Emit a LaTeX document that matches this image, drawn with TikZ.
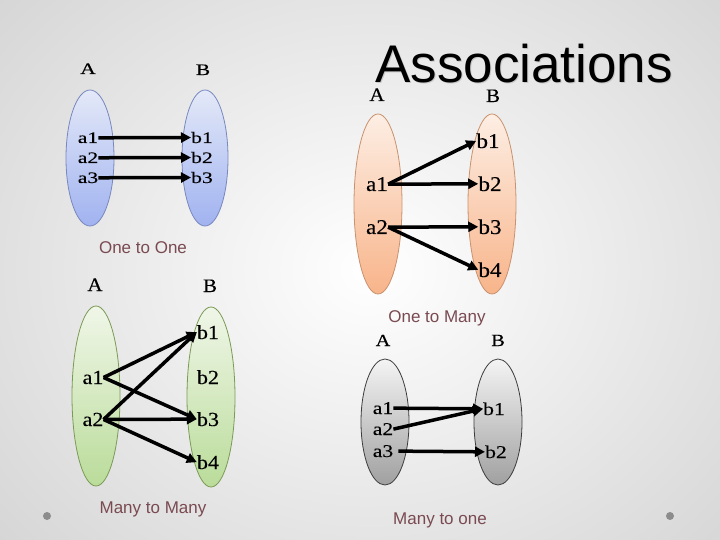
\documentclass[tikz,border=0pt]{standalone}
\usepackage{fontspec}
\setmainfont{Liberation Serif}
\newfontfamily\lfA[FakeStretch=1.1,FakeBold=0.25]{Liberation Serif}
\newfontfamily\lfB[FakeStretch=1.35,FakeBold=0.25]{Liberation Serif}
\newfontfamily\lfC[FakeStretch=1.2,FakeBold=0.25]{Liberation Serif}
\newfontfamily\capfont{Liberation Sans}
\usetikzlibrary{arrows.meta}
\definecolor{capred}{RGB}{122,74,82}
\definecolor{blueT}{RGB}{228,233,248}
\definecolor{blueB}{RGB}{160,178,240}
\definecolor{blueL}{RGB}{120,136,190}
\definecolor{orT}{RGB}{253,238,228}
\definecolor{orB}{RGB}{248,180,138}
\definecolor{orL}{RGB}{200,146,110}
\definecolor{grT}{RGB}{240,246,232}
\definecolor{grB}{RGB}{186,220,154}
\definecolor{grL}{RGB}{122,154,85}
\definecolor{gyT}{RGB}{244,244,244}
\definecolor{gyB}{RGB}{160,160,160}
\definecolor{gyL}{RGB}{60,60,60}
\tikzset{
  lbl/.style 2 args={font=#1\fontsize{#2}{#2}\selectfont, inner sep=0pt, anchor=base},
  captiontext/.style={font=\capfont\fontsize{17bp}{20bp}\selectfont, text=capred, inner sep=0pt, anchor=base},
  arr/.style={line width=3.5bp, -{Triangle[length=10bp,width=10bp]}},
  setA/.style={line width=0.8bp, top color=#1T, bottom color=#1B, draw=#1L},
}
\begin{document}
\begin{tikzpicture}[x=1bp,y=-1bp]
\useasboundingbox (0,0) rectangle (720,540);
% background
\shade[inner color=white, outer color=black!16] (-120,-140) rectangle (860,680);
\fill[black!45] (47,516) circle (4bp);
\fill[black!45] (670,516) circle (4bp);

% title
\node[font=\capfont\fontsize{53bp}{53bp}\selectfont, anchor=base, inner sep=0pt, text=black!22] (tshadow) at (525,84) {Associations};
\node[font=\capfont\fontsize{53bp}{53bp}\selectfont, anchor=base, inner sep=0pt] (title) at (524,83) {Associations};

% ---------- One to One ----------
\draw[setA=blue] (90,158) ellipse [x radius=24bp, y radius=68bp];
\draw[setA=blue] (205,158) ellipse [x radius=23bp, y radius=68bp];
\node[lbl={\lfB}{16bp}] (oA) at (88,74) {A};
\node[lbl={\lfB}{16bp}] (oB) at (203,75) {B};
\node[lbl={\lfB}{16bp}] (oa1) at (88,143) {a1};
\node[lbl={\lfB}{16bp}] (oa2) at (88,163) {a2};
\node[lbl={\lfB}{16bp}] (oa3) at (88,183) {a3};
\node[lbl={\lfB}{16bp}] (ob1) at (202,143) {b1};
\node[lbl={\lfB}{16bp}] (ob2) at (202,163) {b2};
\node[lbl={\lfB}{16bp}] (ob3) at (202,183) {b3};
\draw[arr] (oa1.east) -- (ob1.west);
\draw[arr] (oa2.east) -- (ob2.west);
\draw[arr] (oa3.east) -- (ob3.west);
\node[captiontext] (c1) at (143,254) {One to One};

% ---------- One to Many ----------
\draw[setA=or] (378,204) ellipse [x radius=24bp, y radius=90bp];
\draw[setA=or] (492,204) ellipse [x radius=24bp, y radius=90bp];
\node[lbl={\lfA}{19bp}] (mA) at (377,101) {A};
\node[lbl={\lfA}{19bp}] (mB) at (493,102) {B};
\node[lbl={\lfA}{21bp}] (ma1) at (377,191) {a1};
\node[lbl={\lfA}{21bp}] (ma2) at (377,234) {a2};
\node[lbl={\lfA}{21bp}] (mb1) at (488,148) {b1};
\node[lbl={\lfA}{21bp}] (mb2) at (490,191) {b2};
\node[lbl={\lfA}{21bp}] (mb3) at (490,234) {b3};
\node[lbl={\lfA}{21bp}] (mb4) at (490,277) {b4};
\draw[arr] (ma1.east) -- (mb1.west);
\draw[arr] (ma1.east) -- (mb2.west);
\draw[arr] (ma2.east) -- (mb3.west);
\draw[arr] (ma2.east) -- (mb4.west);
\node[captiontext] (c2) at (437,322) {One to Many};

% ---------- Many to Many ----------
\draw[setA=gr] (96,396) ellipse [x radius=24bp, y radius=90bp];
\draw[setA=gr] (211,397) ellipse [x radius=24bp, y radius=90bp];
\node[lbl={\lfA}{19bp}] (nA) at (95,291) {A};
\node[lbl={\lfA}{19bp}] (nB) at (210,292) {B};
\node[lbl={\lfA}{20bp}] (na1) at (93,384) {a1};
\node[lbl={\lfA}{20bp}] (na2) at (93,426) {a2};
\node[lbl={\lfA}{20bp}] (nb1) at (208,339) {b1};
\node[lbl={\lfA}{20bp}] (nb2) at (208,384) {b2};
\node[lbl={\lfA}{20bp}] (nb3) at (208,426) {b3};
\node[lbl={\lfA}{20bp}] (nb4) at (208,469) {b4};
\draw[arr] (na1.east) -- (nb1.west);
\draw[arr] (na1.east) -- (nb3.west);
\draw[arr] (na2.east) -- (nb1.west);
\draw[arr] (na2.east) -- (nb3.west);
\draw[arr] (na2.east) -- (nb4.west);
\node[captiontext] (c3) at (153,513) {Many to Many};

% ---------- Many to one ----------
\draw[setA=gy] (385,422) ellipse [x radius=24bp, y radius=63bp];
\draw[setA=gy] (498,422) ellipse [x radius=24bp, y radius=63bp];
\node[lbl={\lfC}{17bp}] (kA) at (383,346) {A};
\node[lbl={\lfC}{17bp}] (kB) at (498,346) {B};
\node[lbl={\lfC}{18bp}] (ka1) at (383,414) {a1};
\node[lbl={\lfC}{18bp}] (ka2) at (383,435) {a2};
\node[lbl={\lfC}{18bp}] (ka3) at (383,457) {a3};
\node[lbl={\lfC}{18bp}] (kb1) at (494,415) {b1};
\node[lbl={\lfC}{18bp}] (kb2) at (496,458) {b2};
\draw[arr] (ka1.east) -- (kb1.west);
\draw[arr] (ka2.east) -- (kb1.west);
\draw[arr] ([xshift=5bp]ka3.east) -- (kb2.west);
\node[captiontext] (c4) at (440,524) {Many to one};
\end{tikzpicture}
\end{document}
